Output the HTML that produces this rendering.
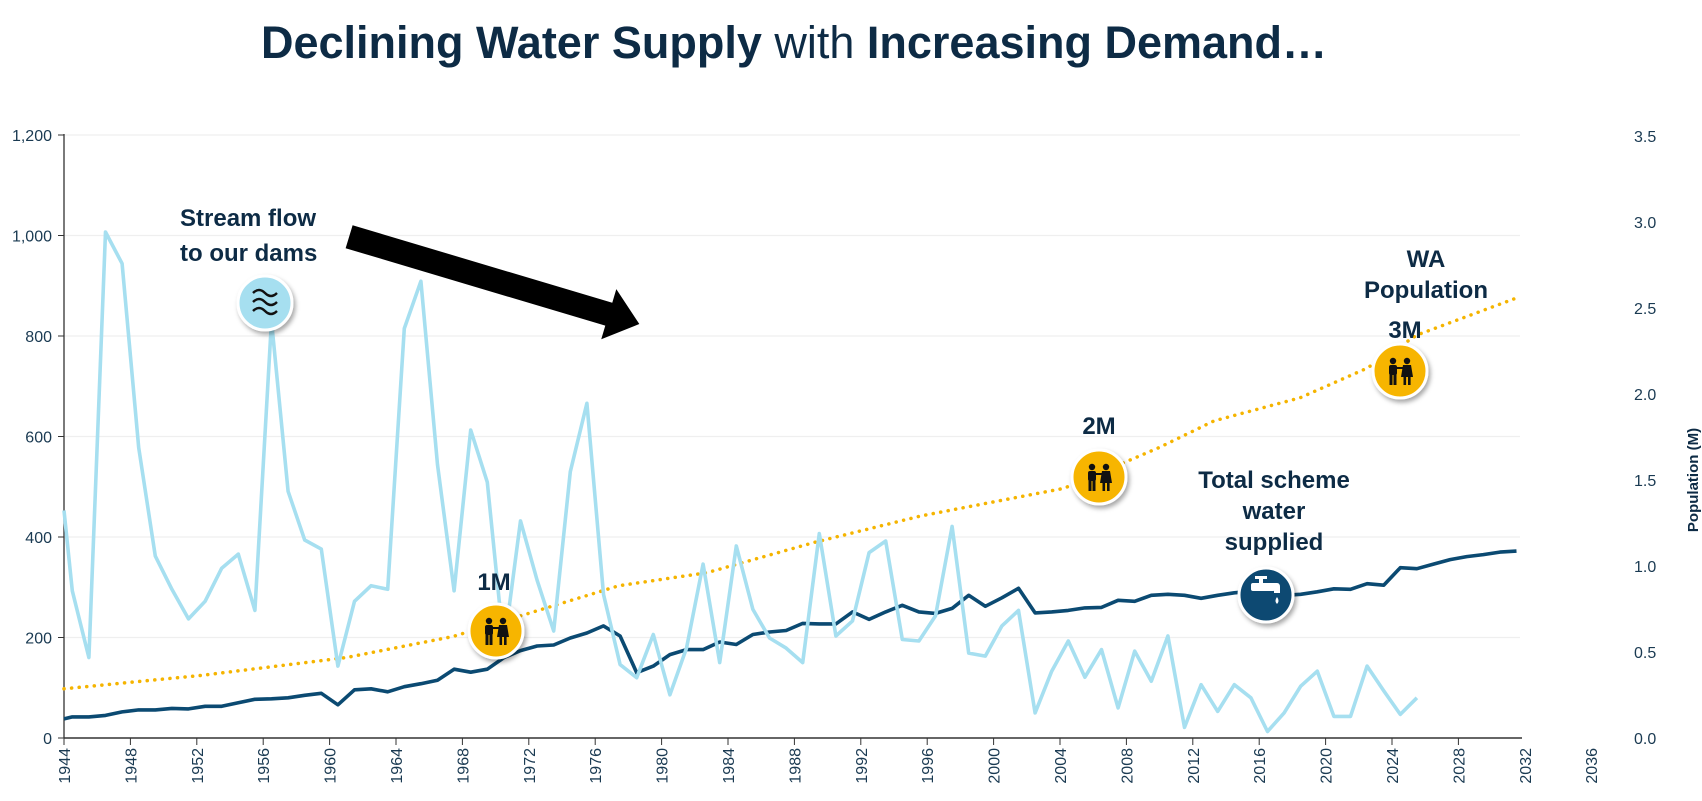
<!DOCTYPE html>
<html><head><meta charset="utf-8">
<style>
html,body{margin:0;padding:0;background:#fff;}
svg{display:block;font-family:"Liberation Sans",sans-serif;}
</style></head>
<body>
<svg id="s" width="1702" height="801" viewBox="0 0 1702 801" xmlns="http://www.w3.org/2000/svg">
<defs>
<filter id="sh" x="-40%" y="-40%" width="180%" height="180%"><feDropShadow dx="2" dy="3" stdDeviation="2.5" flood-color="#000" flood-opacity="0.35"/></filter>
<g id="ppl">
 <circle cx="-7" cy="-12" r="3.2" fill="#111"/>
 <rect x="-11" y="-8" width="8" height="10" rx="2" fill="#111"/>
 <rect x="-10.5" y="1" width="3" height="11" fill="#111"/>
 <rect x="-6.5" y="1" width="3" height="11" fill="#111"/>
 <circle cx="7" cy="-12" r="3.2" fill="#111"/>
 <polygon points="3,-8 11,-8 13,4 1,4" fill="#111"/>
 <rect x="3.5" y="3" width="2.6" height="9" fill="#111"/>
 <rect x="8" y="3" width="2.6" height="9" fill="#111"/>
 <rect x="-3" y="-6" width="6" height="2" fill="#111"/>
</g>
</defs>
<text x="794" y="58" text-anchor="middle" font-size="45" fill="#0d2b45"><tspan font-weight="bold">Declining Water Supply</tspan> with <tspan font-weight="bold">Increasing Demand…</tspan></text>
<g id="grid"></g>
<g id="series"></g>
<g font-weight="bold" fill="#0d2b45" font-size="24">
 <text x="180" y="226">Stream flow</text>
 <text x="180" y="261">to our dams</text>
 <text x="494" y="590" text-anchor="middle">1M</text>
 <text x="1099" y="434" text-anchor="middle">2M</text>
 <text x="1405" y="338" text-anchor="middle">3M</text>
 <text x="1426" y="267" text-anchor="middle">WA</text>
 <text x="1426" y="298" text-anchor="middle">Population</text>
 <text x="1274" y="488" text-anchor="middle">Total scheme</text>
 <text x="1274" y="519" text-anchor="middle">water</text>
 <text x="1274" y="550" text-anchor="middle">supplied</text>
</g>
<g transform="scale(1.091)">
 <polygon points="323.2,206.5 561.2,277.5 564.9,265 586,297 551.1,311 554.8,298.5 316.8,227.5" fill="#000"/>
</g>
<!-- icons -->
<g filter="url(#sh)">
 <circle cx="265" cy="303" r="27" fill="#a6dff0" stroke="#fff" stroke-width="3"/>
 <circle cx="496" cy="631" r="27" fill="#f7b500" stroke="#fff" stroke-width="3"/>
 <circle cx="1099" cy="477" r="27" fill="#f7b500" stroke="#fff" stroke-width="3"/>
 <circle cx="1400" cy="371" r="27" fill="#f7b500" stroke="#fff" stroke-width="3"/>
 <circle cx="1266" cy="595" r="27" fill="#0b4a72" stroke="#fff" stroke-width="3"/>
</g>
<g fill="none" stroke="#111" stroke-width="2.4">
 <path d="M253 293 q6 -6 12 0 t12 0"/>
 <path d="M253 302 q6 -6 12 0 t12 0"/>
 <path d="M253 311 q6 -6 12 0 t12 0"/>
</g>
<use href="#ppl" x="496" y="633"/>
<use href="#ppl" x="1099" y="479"/>
<use href="#ppl" x="1400" y="373"/>
<g fill="#fff">
 <rect x="1251" y="583" width="24" height="8" rx="2"/>
 <rect x="1259" y="578" width="4" height="6"/>
 <rect x="1255" y="576" width="12" height="3"/>
 <path d="M1271 583 h6 q3 0 3 4 v6 h-6 v-4 h-3z"/>
 <path d="M1277 597 q3 4 0 7 q-3 -3 0 -7z"/>
</g>
<script>
(function(){
var NS="http://www.w3.org/2000/svg";
function X(k){return 64+(k+0.5)*16.6;}
function Y(v){return 738-v*0.5025;}
function el(p,t,a,txt){var e=document.createElementNS(NS,t);for(var k in a)e.setAttribute(k,a[k]);if(txt!=null)e.textContent=txt;p.appendChild(e);return e;}
var g=document.getElementById('grid');
for(var v=200;v<=1200;v+=200){el(g,'line',{x1:64,x2:1520,y1:Y(v),y2:Y(v),stroke:'#efefef','stroke-width':1.2});}
for(var v=0;v<=1200;v+=200){
 var lab=v>=1000?(Math.floor(v/1000)+','+String(v%1000).padStart(3,'0')):String(v);
 el(g,'text',{x:52,y:Y(v)+6,'text-anchor':'end','font-size':16,fill:'#1a3a52'},lab);
 el(g,'line',{x1:58,x2:64,y1:Y(v),y2:Y(v),stroke:'#333','stroke-width':1});
}
for(var i=0;i<=7;i++){var p=i*0.5;el(g,'text',{x:1634,y:738-p*172+6,'font-size':16,fill:'#1a3a52'},p.toFixed(1));}
el(g,'text',{x:0,y:0,transform:'translate(1698,480) rotate(-90)','text-anchor':'middle','font-size':15,'font-weight':'bold',fill:'#0d2b45'},'Population (M)');
el(g,'line',{x1:64,x2:64,y1:134,y2:738,stroke:'#333','stroke-width':1.3});
el(g,'line',{x1:64,x2:1522,y1:738,y2:738,stroke:'#333','stroke-width':1.6});
for(var y=1944;y<=2036;y+=4){var x=64+(y-1944)*16.6;
 if(x<=1522)el(g,'line',{x1:x,x2:x,y1:738,y2:745,stroke:'#333','stroke-width':1});
 el(g,'text',{x:0,y:0,transform:'translate('+(x+6)+',748) rotate(-90)','text-anchor':'end','font-size':16,fill:'#1a3a52'},String(y));}
var s=document.getElementById('series');
var stream=[293,160,1007,944,578,362,296,237,272,338,366,254,830,491,394,376,143,272,303,296,815,909,544,293,613,509,180,432,314,213,530,666,286,146,120,206,86,179,346,150,382,256,199,179,150,407,203,233,369,392,196,193,243,421,169,163,223,254,50,133,193,121,176,60,173,113,203,21,106,53,106,80,13,50,103,133,43,43,143,94,47,80];
var supply=[42,42,45,52,56,56,59,58,63,63,70,77,78,80,85,89,66,96,98,92,102,108,115,137,131,137,160,174,183,185,199,209,223,203,130,143,166,176,176,191,186,206,211,214,228,227,227,251,236,251,264,251,248,258,284,262,279,298,249,251,254,259,260,274,272,284,286,284,278,284,289,292,292,284,286,291,297,296,307,304,339,337,346,355,361,365,370,372];
function pts(arr,start){var o=[[64,Y(start)]];arr.forEach(function(v,k){o.push([X(k),Y(v)]);});return o.map(function(p){return p[0].toFixed(1)+','+p[1].toFixed(1);}).join(' ');}
var pop=[[64,98],[203,125],[346,160],[453,202],[619,303],[707,329],[814,389],[921,442],[1064,497],[1159,578],[1214,631],[1300,677],[1367,736],[1417,802],[1517,876]];
el(s,'polyline',{points:pop.map(function(p){return p[0]+','+Y(p[1]).toFixed(1);}).join(' '),fill:'none',stroke:'#f5b400','stroke-width':3.5,'stroke-dasharray':'0.1 7.5','stroke-linecap':'round'});
el(s,'polyline',{points:pts(supply,38),fill:'none',stroke:'#0b4a72','stroke-width':3.6,'stroke-linejoin':'round'});
el(s,'polyline',{points:pts(stream,453),fill:'none',stroke:'#a6dff0','stroke-width':3.6,'stroke-linejoin':'round'});
})();
</script>
</svg>
</body></html>
